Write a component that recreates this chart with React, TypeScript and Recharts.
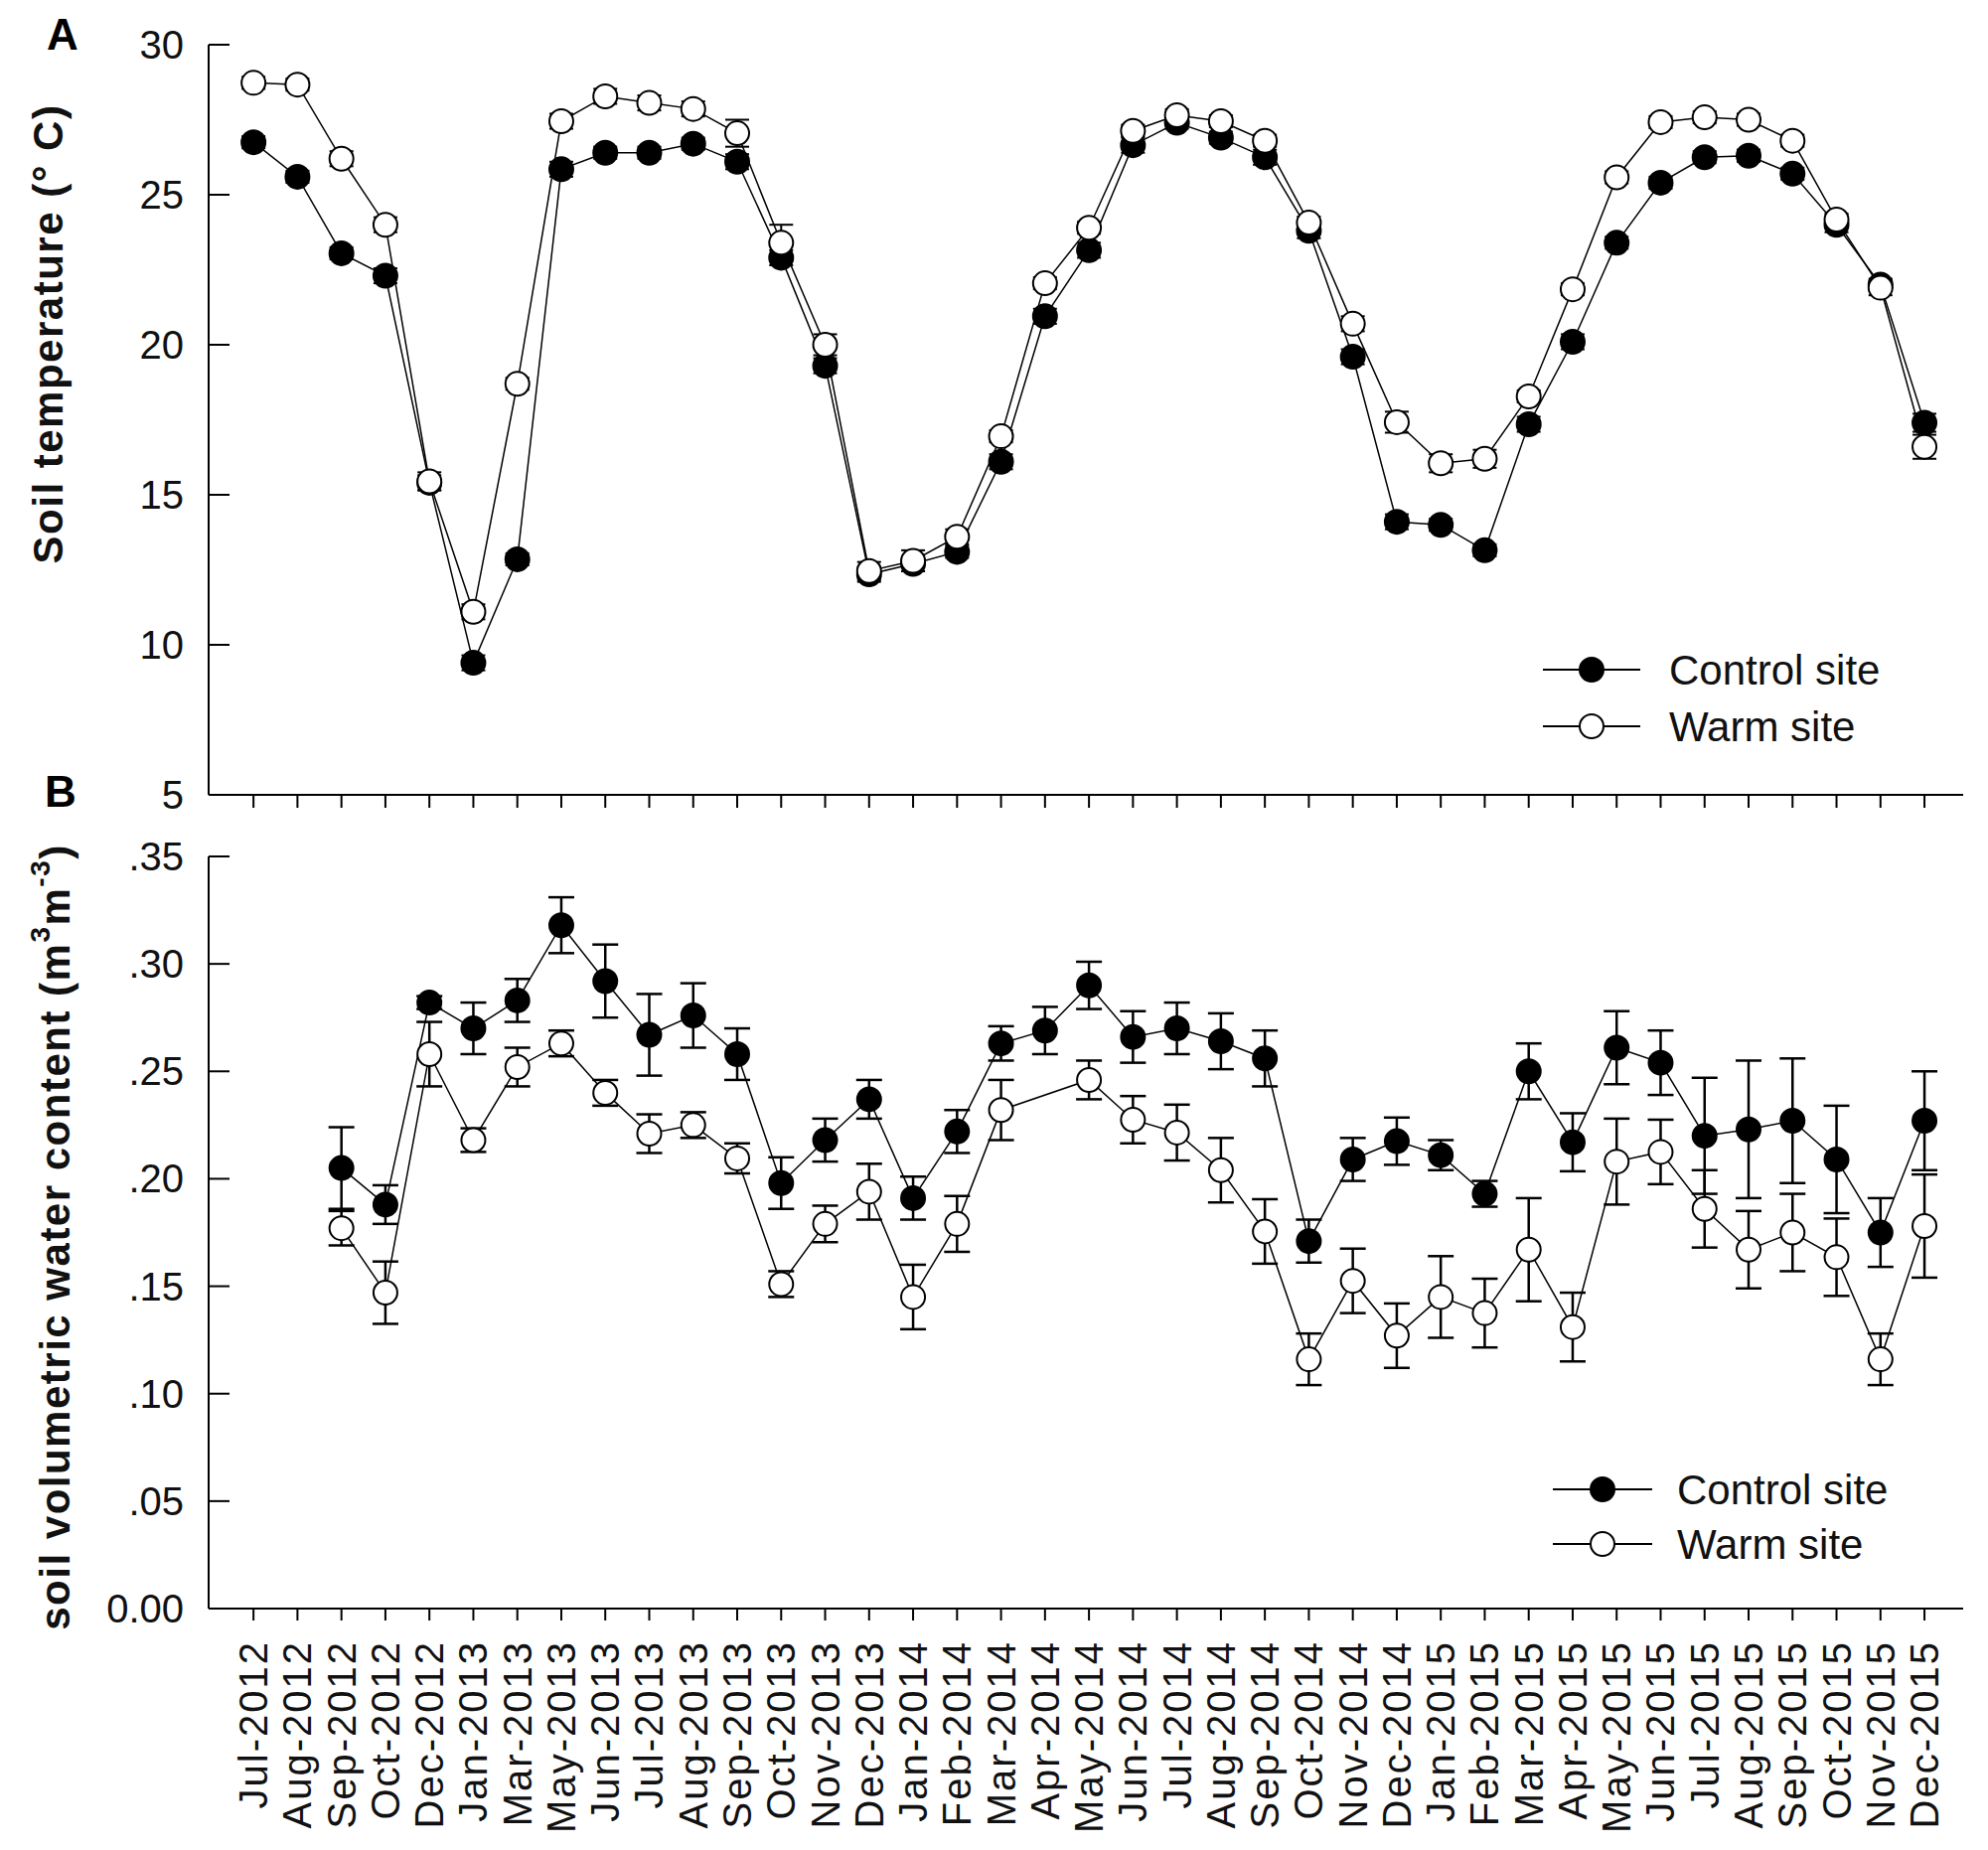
import React from "react";
import { LineChart, Line, XAxis, YAxis, ErrorBar, Legend } from "recharts";

const months = [
  "Jul-2012", "Aug-2012", "Sep-2012", "Oct-2012", "Dec-2012", "Jan-2013", "Mar-2013",
  "May-2013", "Jun-2013", "Jul-2013", "Aug-2013", "Sep-2013", "Oct-2013", "Nov-2013",
  "Dec-2013", "Jan-2014", "Feb-2014", "Mar-2014", "Apr-2014", "May-2014", "Jun-2014",
  "Jul-2014", "Aug-2014", "Sep-2014", "Oct-2014", "Nov-2014", "Dec-2014", "Jan-2015",
  "Feb-2015", "Mar-2015", "Apr-2015", "May-2015", "Jun-2015", "Jul-2015", "Aug-2015",
  "Sep-2015", "Oct-2015", "Nov-2015", "Dec-2015",
];

// soil temperature (deg C)
const tempControl = [
  26.75, 25.6, 23.05, 22.3, 15.4, 9.4, 12.85, 25.85, 26.4, 26.4, 26.7, 26.1, 22.9, 19.3,
  12.35, 12.7, 13.1, 16.1, 20.95, 23.15, 26.65, 27.4, 26.9, 26.25, 23.8, 19.6, 14.1, 14.0,
  13.15, 17.35, 20.1, 23.4, 25.4, 26.25, 26.3, 25.7, 24.0, 22.0, 17.4,
];
const tempWarm = [
  28.73, 28.67, 26.2, 24.0, 15.45, 11.1, 18.7, 27.45, 28.28, 28.06, 27.86, 27.05, 23.4, 20.0,
  12.46, 12.8, 13.6, 16.95, 22.05, 23.9, 27.13, 27.65, 27.45, 26.8, 24.07, 20.7, 17.42, 16.05,
  16.2, 18.28, 21.85, 25.58, 27.42, 27.58, 27.5, 26.8, 24.17, 21.9, 16.6,
];
const tempControlErr = [
  0.2, 0.2, 0.2, 0.25, 0.25, 0.25, 0.2, 0.25, 0.2, 0.2, 0.2, 0.25, 0.25, 0.25,
  0.25, 0.25, 0.2, 0.25, 0.25, 0.25, 0.25, 0.2, 0.2, 0.25, 0.25, 0.25, 0.25, 0.2,
  0.2, 0.25, 0.25, 0.2, 0.2, 0.2, 0.2, 0.2, 0.25, 0.2, 0.3,
];
const tempWarmErr = [
  0.2, 0.2, 0.25, 0.25, 0.3, 0.25, 0.2, 0.25, 0.25, 0.25, 0.25, 0.45, 0.6, 0.35,
  0.3, 0.35, 0.25, 0.2, 0.2, 0.2, 0.2, 0.2, 0.2, 0.2, 0.2, 0.25, 0.35, 0.3,
  0.3, 0.2, 0.2, 0.2, 0.2, 0.2, 0.2, 0.2, 0.2, 0.25, 0.4,
];

// soil volumetric water content (m3 m-3)
const swcControl = [
  null, null, 0.205, 0.188, 0.282, 0.27, 0.283, 0.318, 0.292, 0.267, 0.276, 0.258, 0.198, 0.218,
  0.237, 0.191, 0.222, 0.263, 0.269, 0.29, 0.266, 0.27, 0.264, 0.256, 0.171, 0.209, 0.2175, 0.211,
  0.193, 0.25, 0.217, 0.261, 0.254, 0.22, 0.223, 0.227, 0.209, 0.175, 0.227,
];
const swcControlErr = [
  null, null, 0.019, 0.009, 0.003, 0.012, 0.01, 0.013, 0.017, 0.019, 0.015, 0.012, 0.012, 0.01,
  0.009, 0.01, 0.01, 0.008, 0.011, 0.011, 0.012, 0.012, 0.013, 0.013, 0.01, 0.01, 0.011, 0.007,
  0.006, 0.013, 0.0135, 0.017, 0.015, 0.027, 0.032, 0.029, 0.025, 0.016, 0.023,
];
const swcWarm = [
  null, null, 0.177, 0.147, 0.258, 0.218, 0.252, 0.263, 0.24, 0.221, 0.225, 0.2095, 0.151, 0.179,
  0.194, 0.145, 0.179, 0.232, null, 0.246, 0.2275, 0.2215, 0.204, 0.1755, 0.116, 0.1525, 0.127, 0.145,
  0.1375, 0.167, 0.131, 0.208, 0.2125, 0.186, 0.167, 0.175, 0.1635, 0.116, 0.178,
];
const swcWarmErr = [
  null, null, 0.008, 0.0145, 0.015, 0.0055, 0.009, 0.006, 0.006, 0.009, 0.006, 0.007, 0.006, 0.0085,
  0.013, 0.015, 0.013, 0.014, null, 0.009, 0.011, 0.013, 0.015, 0.015, 0.012, 0.015, 0.015, 0.019,
  0.016, 0.024, 0.016, 0.02, 0.015, 0.018, 0.018, 0.018, 0.018, 0.012, 0.024,
];

const tempTicks = [5, 10, 15, 20, 25, 30];
const swcTicks = [0, 0.05, 0.1, 0.15, 0.2, 0.25, 0.3, 0.35];
const monthIdx = months.map((_, i) => i);

const tempData = months.map((m, i) => ({
  i,
  month: m,
  control: tempControl[i],
  warm: tempWarm[i],
  cErr: tempControlErr[i],
  wErr: tempWarmErr[i],
}));

const swcData = months.map((m, i) => ({
  i,
  month: m,
  control: swcControl[i],
  warm: swcWarm[i],
  cErr: swcControlErr[i],
  wErr: swcWarmErr[i],
}));

const FONT = '"Liberation Sans", Arial, sans-serif';
const X_DOMAIN = [-1.02, 38.88];

function YTick(props: any) {
  const { x, y, payload, fmt } = props;
  return (
    <g>
      <line x1={x + 25} x2={x + 46} y1={y} y2={y} stroke="#000" strokeWidth={2} />
      <text
        x={x}
        y={y}
        textAnchor="end"
        dominantBaseline="central"
        fontFamily={FONT}
        fontSize={40}
        fill="#111"
      >
        {fmt(payload.value)}
      </text>
    </g>
  );
}

function MonthTick(props: any) {
  const { x, y, payload } = props;
  return (
    <g transform={`translate(${x},${y})`}>
      <text
        transform="rotate(-90)"
        textAnchor="end"
        dominantBaseline="central"
        fontFamily={FONT}
        fontSize={40}
        letterSpacing={2}
        fill="#111"
      >
        {months[payload.value]}
      </text>
    </g>
  );
}

function LegendBox({ lineX1, lineX2, textX, row1, row2 }: any) {
  const cx = (lineX1 + lineX2) / 2;
  return (
    <svg width={440} height={140} style={{ display: "block" }}>
      <line x1={lineX1} x2={lineX2} y1={row1} y2={row1} stroke="#000" strokeWidth={2} />
      <circle cx={cx} cy={row1} r={12} fill="#000" stroke="#000" strokeWidth={2} />
      <text x={textX} y={row1} dominantBaseline="central" fontFamily={FONT} fontSize={42} fill="#111">
        Control site
      </text>
      <line x1={lineX1} x2={lineX2} y1={row2} y2={row2} stroke="#000" strokeWidth={2} />
      <circle cx={cx} cy={row2} r={12} fill="#fff" stroke="#000" strokeWidth={2} />
      <text x={textX} y={row2} dominantBaseline="central" fontFamily={FONT} fontSize={42} fill="#111">
        Warm site
      </text>
    </svg>
  );
}

const fmtTemp = (v: number) => String(v);
const fmtSwc = (v: number) => (v === 0 ? "0.00" : v.toFixed(2).replace(/^0/, ""));

export default function App() {
  return (
    <div
      style={{
        position: "absolute",
        left: 0,
        top: 0,
        width: 2001,
        height: 1862,
        background: "#fff",
        fontFamily: FONT,
      }}
    >
      <div style={{ position: "absolute", left: 47, top: 10, fontSize: 44, fontWeight: "bold", lineHeight: "50px" }}>
        A
      </div>
      <div style={{ position: "absolute", left: 45, top: 772, fontSize: 44, fontWeight: "bold", lineHeight: "50px" }}>
        B
      </div>

      {/* panel A: soil temperature */}
      <div style={{ position: "absolute", left: 0, top: 0 }}>
        <LineChart width={2001} height={830} data={tempData} margin={{ top: 45, right: 25, bottom: 0, left: 0 }}>
          <XAxis
            dataKey="i"
            type="number"
            domain={X_DOMAIN}
            ticks={monthIdx}
            allowDataOverflow
            height={30}
            stroke="#000"
            strokeWidth={2}
            tickSize={13}
            tick={() => <g />}
          />
          <YAxis
            type="number"
            domain={[5, 30]}
            ticks={tempTicks}
            width={210}
            stroke="#000"
            strokeWidth={2}
            tickLine={false}
            tickSize={0}
            tickMargin={25}
            tick={(p: any) => <YTick {...p} fmt={fmtTemp} />}
            label={{
              content: () => (
                <text
                  transform="translate(48,336) rotate(-90)"
                  textAnchor="middle"
                  dominantBaseline="central"
                  fontFamily={FONT}
                  fontSize={42}
                  fontWeight="bold"
                  letterSpacing={1.5}
                  fill="#111"
                >
                  Soil temperature (° C)
                </text>
              ),
            }}
          />
          <Legend
            layout="horizontal"
            verticalAlign="middle"
            align="center"
            wrapperStyle={{ left: 1540, top: 630, width: 440 }}
            content={() => <LegendBox lineX1={13} lineX2={111} textX={140} row1={44} row2={101} />}
          />
          <Line
            dataKey="control"
            stroke="#000"
            strokeWidth={1.5}
            dot={{ r: 12, fill: "#000", stroke: "#000", strokeWidth: 2 }}
            activeDot={false}
            isAnimationActive={false}
          >
            <ErrorBar dataKey="cErr" direction="y" width={12} stroke="#000" strokeWidth={2} isAnimationActive={false} />
          </Line>
          <Line
            dataKey="warm"
            stroke="#000"
            strokeWidth={1.5}
            dot={{ r: 12, fill: "#fff", stroke: "#000", strokeWidth: 2 }}
            activeDot={false}
            isAnimationActive={false}
          >
            <ErrorBar dataKey="wErr" direction="y" width={12} stroke="#000" strokeWidth={2} isAnimationActive={false} />
          </Line>
        </LineChart>
      </div>

      {/* panel B: soil volumetric water content */}
      <div style={{ position: "absolute", left: 0, top: 830 }}>
        <LineChart width={2001} height={1032} data={swcData} margin={{ top: 32, right: 25, bottom: 0, left: 0 }}>
          <XAxis
            dataKey="i"
            type="number"
            domain={X_DOMAIN}
            ticks={monthIdx}
            allowDataOverflow
            height={243}
            stroke="#000"
            strokeWidth={2}
            tickSize={12}
            tickMargin={20}
            tick={(p: any) => <MonthTick {...p} />}
          />
          <YAxis
            type="number"
            domain={[0, 0.35]}
            ticks={swcTicks}
            width={210}
            stroke="#000"
            strokeWidth={2}
            tickLine={false}
            tickSize={0}
            tickMargin={25}
            tick={(p: any) => <YTick {...p} fmt={fmtSwc} />}
            label={{
              content: () => (
                <text
                  transform="translate(55,415) rotate(-90)"
                  textAnchor="middle"
                  dominantBaseline="central"
                  fontFamily={FONT}
                  fontSize={42}
                  fontWeight="bold"
                  letterSpacing={1.5}
                  fill="#111"
                >
                  <tspan>soil volumetric water content (m</tspan>
                  <tspan dy={-15} fontSize={28}>3</tspan>
                  <tspan dy={15}>m</tspan>
                  <tspan dy={-15} fontSize={28}>-3</tspan>
                  <tspan dy={15}>)</tspan>
                </text>
              ),
            }}
          />
          <Legend
            layout="horizontal"
            verticalAlign="middle"
            align="center"
            wrapperStyle={{ left: 1540, top: 620, width: 440 }}
            content={() => <LegendBox lineX1={23} lineX2={123} textX={148} row1={49} row2={104} />}
          />
          <Line
            dataKey="control"
            stroke="#000"
            strokeWidth={1.5}
            dot={{ r: 12, fill: "#000", stroke: "#000", strokeWidth: 2 }}
            activeDot={false}
            isAnimationActive={false}
          >
            <ErrorBar dataKey="cErr" direction="y" width={13} stroke="#000" strokeWidth={2.5} isAnimationActive={false} />
          </Line>
          <Line
            dataKey="warm"
            connectNulls
            stroke="#000"
            strokeWidth={1.5}
            dot={{ r: 12, fill: "#fff", stroke: "#000", strokeWidth: 2 }}
            activeDot={false}
            isAnimationActive={false}
          >
            <ErrorBar dataKey="wErr" direction="y" width={13} stroke="#000" strokeWidth={2.5} isAnimationActive={false} />
          </Line>
        </LineChart>
      </div>
    </div>
  );
}
